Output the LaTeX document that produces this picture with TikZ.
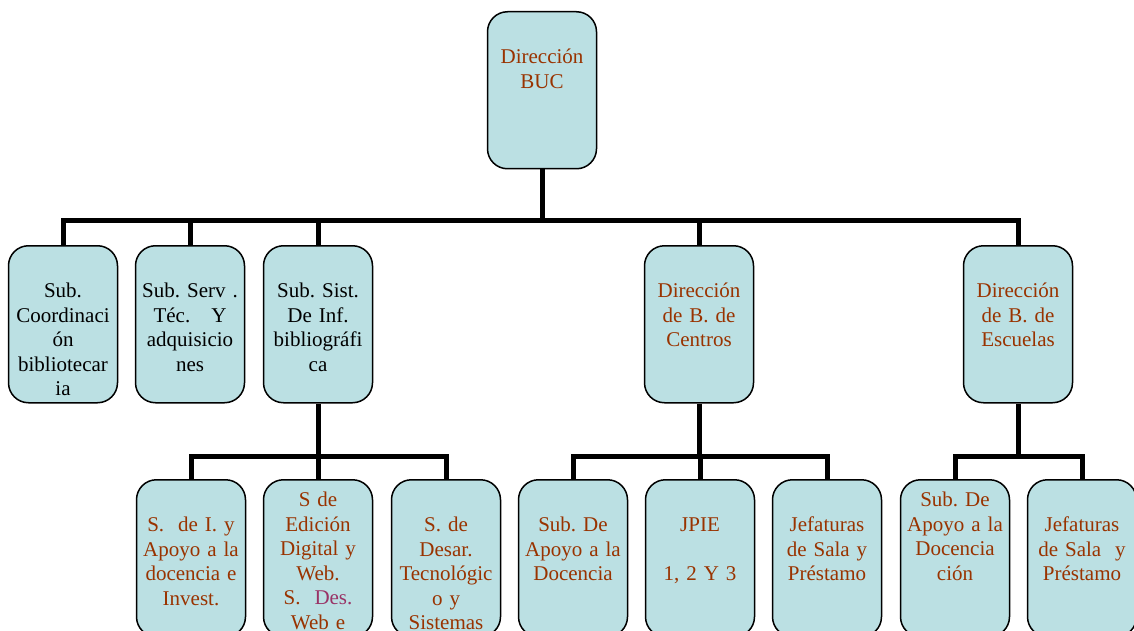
\documentclass[tikz,border=0pt]{standalone}
\usepackage{fontspec}
\setmainfont{Liberation Serif}
\frenchspacing
\definecolor{boxfill}{RGB}{187,224,227}
\definecolor{txtbrown}{RGB}{153,51,0}
\definecolor{txtpurple}{RGB}{153,51,102}
\tikzset{
  box/.style={draw=black, line width=1.5pt, fill=boxfill, rounded corners=20pt,
    text width=105pt, inner xsep=2pt, inner ysep=0pt, align=center,
    text height=52pt, text depth=105pt, anchor=north, text=txtbrown,
    font=\fontsize{21}{24.5}\selectfont},
  boxhigh/.style={box, text height=27pt, text depth=130pt},
  conn/.style={line width=5pt, black}
}
\begin{document}
\begin{tikzpicture}[x=1pt, y=-1pt]
      \clip (0,0) rectangle (1134,631);
      \node[box] (buc) at (542,11) {Dirección\\BUC};
      \node[box, text=black] (coord) at (63,245) {Sub.\\Coordinaci\\ón\\bibliotecar\\ia};
      \node[box, text=black] (serv) at (190,245) {Sub. Serv .\\Téc.\ \ \ Y\\adquisicio\\nes};
      \node[box, text=black] (sist) at (318,245) {Sub. Sist.\\De Inf.\\bibliográfi\\ca};
      \node[box] (dcen) at (699,245) {Dirección\\de B. de\\Centros};
      \node[box] (desc) at (1018,245) {Dirección\\de B. de\\Escuelas};
      \node[box] (invest) at (191,479) {S.\ \ de I. y\\Apoyo a la\\docencia e\\Invest.};
      \node[boxhigh] (edic) at (318,479) {S de\\Edición\\Digital y\\Web.\\S.\ \ \textcolor{txtpurple}{Des.}\\Web e};
      \node[box] (desar) at (446,479) {S. de\\Desar.\\Tecnológic\\o y\\Sistemas};
      \node[box] (apoyo1) at (573,479) {Sub. De\\Apoyo a la\\Docencia};
      \node[box] (jpie) at (700,479) {JPIE\\~\\1, 2 Y 3};
      \node[box] (jef1) at (827,479) {Jefaturas\\de Sala y\\Préstamo};
      \node[boxhigh] (apoyo2) at (955,479) {Sub. De\\Apoyo a la\\Docencia\\ción};
      \node[box] (jef2) at (1082,479) {Jefaturas\\de Sala\ \ y\\Préstamo};
      \coordinate (j0) at (542,220);
      \coordinate (j1) at (318,456);
      \coordinate (j2) at (699,456);
      \coordinate (j3) at (1018,456);
      \begin{scope}[conn]
        \draw (buc) -- (j0);
        \draw (j0) -| (coord);
        \draw (j0) -| (serv);
        \draw (j0) -| (sist);
        \draw (j0) -| (dcen);
        \draw (j0) -| (desc);
        \draw (sist) -- (j1);
        \draw (j1) -| (invest);
        \draw (j1) -| (edic);
        \draw (j1) -| (desar);
        \draw (dcen) -- (j2);
        \draw (j2) -| (apoyo1);
        \draw (j2) -| (jpie);
        \draw (j2) -| (jef1);
        \draw (desc) -- (j3);
        \draw (j3) -| (apoyo2);
        \draw (j3) -| (jef2);
      \end{scope}
    \end{tikzpicture}
\end{document}
